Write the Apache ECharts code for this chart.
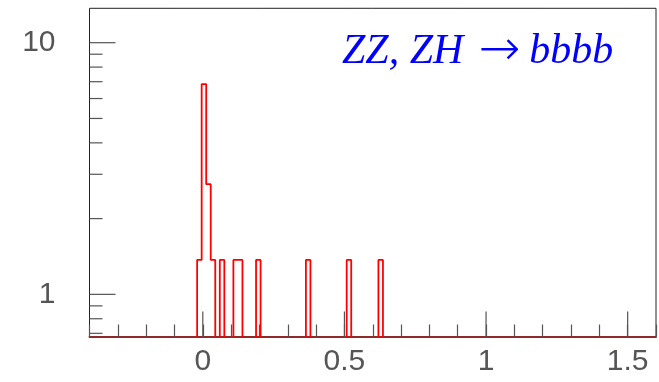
<!DOCTYPE html>
<html>
<head>
<meta charset="utf-8">
<script src="https://cdn.jsdelivr.net/npm/echarts@6/dist/echarts.min.js"></script>
<style>
html,body{margin:0;padding:0;background:#fff;}
#chart{width:659px;height:382px;}
</style>
</head>
<body>
<div id="chart"></div>
<script>
// ---- data ----
const titleLeft = 'ZZ, ZH';
const titleArrow = '\u2192';
const titleRight = 'bbbb';
const xMin = -0.4, xMax = 1.6;
const yMin = 0.68, yMax = 13.7;
const binWidth = 0.016;
const binLow   = [-0.020, -0.004, 0.012, 0.028, 0.060, 0.108, 0.124, 0.188, 0.364, 0.508, 0.620];
const binValue = [1.37, 6.85, 2.74, 1.37, 1.37, 1.37, 1.37, 1.37, 1.37, 1.37, 1.37];
const xLabelValues = [0, 0.5, 1, 1.5];
const xMajorTicks = [0, 0.5, 1, 1.5];
const yLabelValues = [1, 10];
const yMajorTicks = [1, 10];
const yMinorTicks = [0.7, 0.8, 0.9, 2, 3, 4, 5, 6, 7, 8, 9];

// ---- build histogram contour ----
function buildSteps() {
  const pts = [];
  const base = 0.3; // below axis minimum, clipped by grid
  let prevHi = null;
  for (let i = 0; i < binLow.length; i++) {
    const lo = binLow[i], hi = lo + binWidth, v = binValue[i];
    if (prevHi === null || Math.abs(lo - prevHi) > 1e-9) {
      if (prevHi !== null) pts.push([prevHi, base]);
      pts.push([lo, base]);
    }
    pts.push([lo, v], [hi, v]);
    prevHi = hi;
  }
  pts.push([prevHi, base]);
  return pts;
}

function near(v, list) {
  for (const t of list) if (Math.abs(v - t) < 1e-6 * Math.max(1, Math.abs(t))) return t;
  return null;
}

function tickSeries(data, dir, len) {
  return {
    type: 'custom', silent: true, animation: false, clip: false, z: 3,
    data: data,
    renderItem: function (params, api) {
      const p = api.coord([api.value(0), api.value(1)]);
      const x2 = dir === 'y' ? p[0] + len : p[0];
      const y2 = dir === 'y' ? p[1] : p[1] - len;
      return { type: 'line', shape: { x1: p[0], y1: p[1], x2: x2, y2: y2 },
               style: { stroke: '#555', lineWidth: 1.2 } };
    }
  };
}

const labelFont = { fontFamily: 'Liberation Sans', fontSize: 30, color: '#555' };

const chart = echarts.init(document.getElementById('chart'), null, { renderer: 'canvas' });
chart.setOption({
  animation: false,
  backgroundColor: '#fff',
  title: {
    text: '{t|' + titleLeft + '}{a|' + titleArrow + '}{t|' + titleRight + '}',
    left: 342, top: 30, padding: 0,
    textStyle: {
      rich: {
        t: { fontFamily: 'Liberation Serif', fontStyle: 'italic', fontWeight: 'normal',
             fontSize: 42, color: '#0000ff', lineHeight: 44 },
        a: { fontFamily: 'DejaVu Sans', fontStyle: 'normal', fontWeight: 'lighter',
             fontSize: 50, color: '#0000ff', lineHeight: 44, padding: [0, 9, 0, 15] }
      }
    }
  },
  grid: { left: 89.5, top: 8.3, width: 572, height: 328.2, show: true,
          borderColor: '#222', borderWidth: 1, backgroundColor: 'transparent' },
  xAxis: {
    type: 'value', min: xMin, max: xMax, interval: 0.1,
    axisLine: { show: true, onZero: false, lineStyle: { color: '#8e2a2a', width: 2 } },
    axisTick: { show: true, inside: true, length: 12, lineStyle: { color: '#555', width: 1.2 } },
    splitLine: { show: false },
    axisLabel: Object.assign({ margin: 10,
      formatter: function (v) { const t = near(v, xLabelValues); return t === null ? '' : String(t); } }, labelFont)
  },
  yAxis: {
    type: 'log', logBase: 10, min: yMin, max: yMax,
    axisLine: { show: false }, axisTick: { show: false }, splitLine: { show: false },
    axisLabel: Object.assign({ margin: 34,
      formatter: function (v) { const t = near(v, yLabelValues); return t === null ? '' : String(t); } }, labelFont)
  },
  series: [
    tickSeries(yMinorTicks.map(v => [xMin, v]), 'y', 13),
    tickSeries(yMajorTicks.map(v => [xMin, v]), 'y', 26),
    tickSeries(xMajorTicks.map(v => [v, yMin]), 'x', 25),
    {
      type: 'line', data: buildSteps(), showSymbol: false, symbol: 'none', clip: true,
      lineStyle: { color: '#ff0000', width: 1.8 }, z: 4, animation: false
    }
  ]
});
</script>
</body>
</html>
